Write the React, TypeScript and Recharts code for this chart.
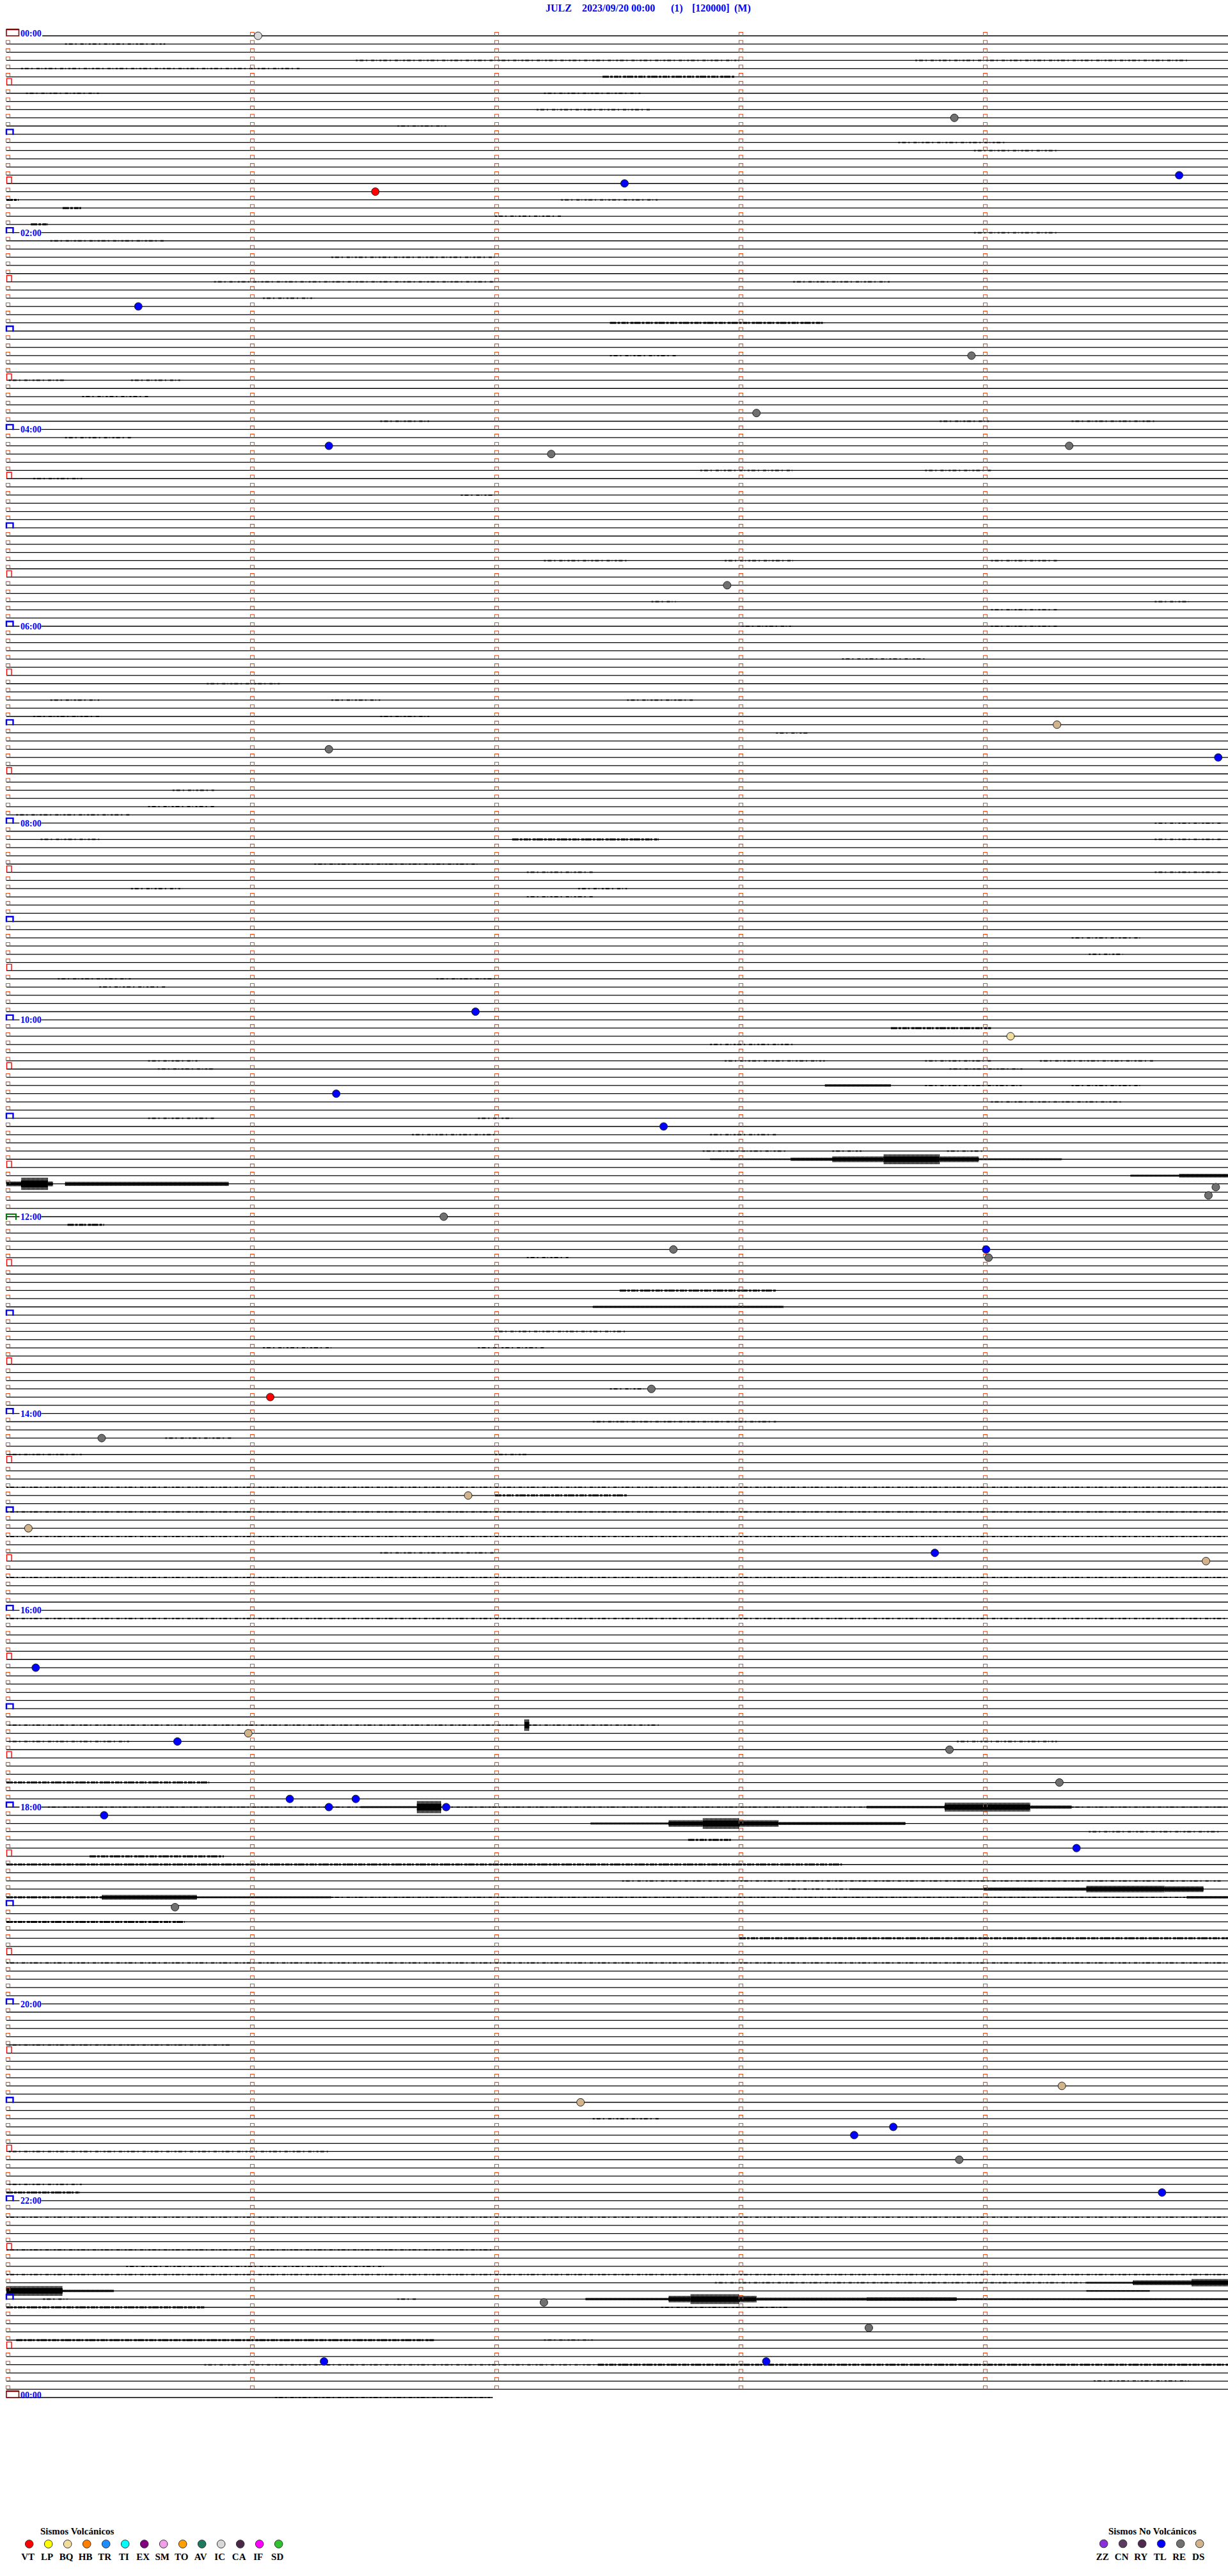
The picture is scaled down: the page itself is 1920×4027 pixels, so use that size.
import React from 'react';
import { ComposedChart, XAxis, YAxis, ReferenceLine, ReferenceArea, Scatter } from 'recharts';

// ---------- header / labels ----------
const titleParts = ['JULZ', '2023/09/20 00:00', '(1)', '[120000]', '(M)'];
const hourLabels = ['00:00', '02:00', '04:00', '06:00', '08:00', '10:00', '12:00', '14:00', '16:00', '18:00', '20:00', '22:00', '00:00'];
const hourLabelRows = [0, 24, 48, 72, 96, 120, 144, 168, 192, 216, 240, 264, 288];

// ---------- legend ----------
const volcanicTypes = ['VT', 'LP', 'BQ', 'HB', 'TR', 'TI', 'EX', 'SM', 'TO', 'AV', 'IC', 'CA', 'IF', 'SD'];
const volcanicColors = ['#ff0000', '#ffff00', '#f0dc9c', '#ff8000', '#1e8cff', '#00ffff', '#800080', '#f0a0e8', '#ffa000', '#1e7a5e', '#d8d8d8', '#4a2848', '#ff00ff', '#30c030'];
const nonVolcanicTypes = ['ZZ', 'CN', 'RY', 'TL', 'RE', 'DS'];
const nonVolcanicColors = ['#8a30d8', '#5a3a5e', '#4e2a4e', '#0000ff', '#707070', '#d2b48c'];

// ---------- events (row = 5-minute line index, minute inside the line) ----------
const eventRows = [0, 10, 17, 18, 19, 33, 39, 46, 50, 50, 51, 67, 84, 87, 88, 119, 122, 129, 133, 140.4, 141.4, 144, 148, 148, 149, 165, 166, 171, 178, 182, 185, 186, 199, 207, 208, 209, 213, 215, 215, 216, 216, 217, 221, 228.2, 250, 252, 255, 256, 259, 263, 276.4, 279.5, 283.6, 283.6];
const eventMinutes = [1.03, 3.88, 4.8, 2.53, 1.51, 0.54, 3.95, 3.07, 1.32, 4.35, 2.23, 2.95, 4.3, 1.32, 4.96, 1.92, 4.11, 1.35, 2.69, 4.95, 4.92, 1.79, 2.73, 4.01, 4.02, 2.64, 1.08, 0.39, 1.89, 0.09, 3.8, 4.91, 0.12, 0.99, 0.7, 3.86, 4.31, 1.16, 1.43, 1.32, 1.8, 0.4, 4.38, 0.69, 4.32, 2.35, 3.63, 3.47, 3.9, 4.73, 2.2, 3.53, 1.3, 3.11];
const eventTypes = ['IC', 'RE', 'TL', 'TL', 'VT', 'TL', 'RE', 'RE', 'TL', 'RE', 'RE', 'RE', 'DS', 'RE', 'TL', 'TL', 'BQ', 'TL', 'TL', 'RE', 'RE', 'RE', 'RE', 'TL', 'RE', 'RE', 'VT', 'RE', 'DS', 'DS', 'TL', 'DS', 'TL', 'DS', 'TL', 'RE', 'RE', 'TL', 'TL', 'TL', 'TL', 'TL', 'TL', 'RE', 'DS', 'DS', 'TL', 'TL', 'RE', 'TL', 'RE', 'RE', 'TL', 'TL'];

// ---------- trace texture: [row, fromMinute, toMinute, level] ----------
const speckles: [number, number, number, number][] = [
  [1, 0.24, 0.65, 1], [3, 1.43, 3.0, 1], [3, 3.72, 4.84, 1], [4, 0.06, 1.2, 1], [5, 2.44, 2.98, 2],
  [7, 0.08, 0.38, 1], [7, 2.2, 2.6, 1], [9, 2.17, 2.64, 1], [11, 1.6, 1.8, 1], [13, 3.65, 4.09, 1],
  [14, 3.96, 4.3, 1], [20, 0.0, 0.05, 2], [20, 2.27, 2.67, 1], [21, 0.23, 0.31, 2], [22, 2.0, 2.27, 1],
  [23, 0.1, 0.17, 2], [24, 3.96, 4.3, 1], [25, 0.18, 0.65, 1], [27, 1.33, 2.0, 1], [30, 0.85, 2.0, 1],
  [30, 3.22, 3.62, 1], [32, 1.05, 1.26, 1], [35, 2.47, 3.35, 2], [39, 2.47, 2.74, 1], [42, 0.01, 0.24, 1],
  [42, 0.51, 0.72, 1], [44, 0.31, 0.58, 1], [47, 1.53, 1.73, 1], [47, 3.82, 4.03, 1], [47, 4.36, 4.7, 1],
  [49, 0.24, 0.51, 1], [53, 2.84, 3.22, 1], [53, 3.76, 4.03, 1], [54, 0.11, 0.31, 1], [56, 1.86, 2.0, 1],
  [64, 2.2, 2.54, 1], [64, 2.94, 3.22, 1], [64, 4.03, 4.3, 1], [69, 2.64, 2.74, 1], [69, 4.7, 4.84, 1],
  [70, 4.03, 4.3, 1], [72, 3.01, 3.22, 1], [72, 4.03, 4.3, 1], [76, 3.42, 3.76, 1], [79, 0.82, 1.12, 1],
  [81, 0.18, 0.38, 1], [81, 1.33, 1.53, 1], [81, 2.54, 2.81, 1], [83, 0.11, 0.38, 1], [83, 1.53, 1.73, 1],
  [85, 3.15, 3.28, 1], [92, 0.68, 0.85, 1], [94, 0.58, 0.85, 1], [95, 0.04, 0.51, 1], [96, 4.7, 4.97, 1],
  [98, 0.14, 0.38, 1], [98, 2.07, 2.67, 2], [98, 4.7, 4.97, 1], [101, 1.26, 1.93, 1], [102, 2.13, 2.4, 1],
  [102, 4.7, 4.97, 1], [104, 0.51, 0.72, 1], [104, 2.34, 2.54, 1], [105, 2.13, 2.4, 1], [110, 4.36, 4.64, 1],
  [112, 4.43, 4.57, 1], [115, 0.21, 0.51, 1], [115, 1.76, 2.0, 1], [116, 0.38, 0.65, 1], [121, 3.62, 4.03, 2],
  [123, 2.88, 3.22, 1], [125, 0.58, 0.79, 1], [125, 2.94, 3.35, 1], [125, 3.76, 4.03, 1], [125, 4.23, 4.7, 1],
  [126, 0.62, 0.85, 1], [126, 3.86, 4.16, 1], [128, 3.76, 4.16, 1], [128, 4.36, 4.64, 1], [130, 4.03, 4.57, 1],
  [132, 0.58, 0.85, 1], [132, 1.93, 2.07, 1], [134, 1.66, 2.0, 1], [134, 2.88, 3.15, 1], [136, 2.85, 3.2, 1],
  [136, 3.38, 3.5, 1], [136, 3.85, 4.0, 1], [145, 0.25, 0.4, 2], [149, 2.13, 2.3, 1], [153, 2.51, 3.15, 2],
  [158, 2.0, 2.54, 1], [160, 1.05, 1.33, 1], [160, 1.93, 2.2, 1], [165, 2.47, 2.61, 1], [169, 2.4, 3.15, 1],
  [171, 0.65, 0.92, 1], [173, 0.01, 0.31, 1], [173, 2.0, 2.13, 1], [177, 0.0, 5.0, 1], [178, 2.0, 2.54, 2],
  [180, 0.0, 5.0, 1], [183, 0.0, 5.0, 1], [185, 1.53, 2.0, 1], [188, 0.0, 5.0, 1], [193, 0.0, 5.0, 1],
  [206, 0.01, 2.1, 1], [206, 2.14, 2.67, 1], [208, 0.01, 0.51, 1], [208, 3.89, 4.3, 1], [213, 0.0, 0.83, 2],
  [216, 0.17, 1.45, 1], [216, 1.78, 3.52, 1], [216, 4.36, 5.0, 1], [219, 4.43, 4.97, 1], [220, 2.79, 2.97, 2],
  [222, 0.34, 0.89, 2], [223, 0.0, 3.42, 2], [225, 2.52, 4.97, 1], [226, 3.2, 3.45, 1], [227, 0.0, 0.39, 2],
  [227, 1.33, 4.83, 1], [230, 0.0, 0.73, 2], [232, 3.0, 5.0, 2], [235, 0.0, 5.0, 1], [245, 0.01, 0.92, 1],
  [254, 2.4, 2.67, 1], [258, 0.01, 1.33, 1], [262, 0.01, 0.31, 1], [263, 0.0, 0.3, 2], [266, 0.0, 5.0, 1],
  [270, 0.0, 2.0, 1], [272, 0.49, 1.55, 1], [273, 0.0, 5.0, 1], [274, 2.9, 4.42, 1], [276, 0.15, 0.25, 1],
  [276, 1.6, 1.68, 1], [277, 0.0, 0.81, 2], [277, 2.68, 3.2, 1], [281, 0.04, 1.75, 2], [281, 2.2, 2.4, 1],
  [284, 0.81, 2.42, 1], [284, 2.42, 5.0, 2], [286, 4.45, 4.84, 1], [288, 1.1, 1.99, 1],
];

// ---------- bursts: [row, fromMinute, toMinute, half-amplitude in rows] ----------
const bursts: [number, number, number, number][] = [
  [137, 2.88, 3.21, 0.1], [137, 3.21, 3.38, 0.2], [137, 3.38, 3.59, 0.35], [137, 3.59, 3.82, 0.6], [137, 3.82, 3.98, 0.35], [137, 3.98, 4.32, 0.12],
  [139, 4.6, 4.8, 0.12], [139, 4.8, 5.0, 0.22],
  [140, 0.0, 0.06, 0.3], [140, 0.06, 0.17, 0.75], [140, 0.17, 0.19, 0.3], [140, 0.24, 0.91, 0.25],
  [128, 3.35, 3.62, 0.15], [155, 2.4, 3.18, 0.14],
  [206, 2.12, 2.14, 0.7],
  [216, 1.45, 1.68, 0.12], [216, 1.68, 1.78, 0.75], [216, 3.52, 3.84, 0.15], [216, 3.84, 4.19, 0.55], [216, 4.19, 4.36, 0.2],
  [218, 2.39, 2.71, 0.12], [218, 2.71, 2.85, 0.4], [218, 2.85, 3.0, 0.65], [218, 3.0, 3.16, 0.4], [218, 3.16, 3.68, 0.18],
  [226, 3.45, 4.0, 0.1], [226, 4.0, 4.42, 0.2], [226, 4.42, 4.74, 0.4], [226, 4.74, 4.9, 0.35],
  [227, 0.39, 0.78, 0.3], [227, 0.78, 1.33, 0.12], [227, 4.83, 5.0, 0.15],
  [274, 4.42, 4.61, 0.12], [274, 4.61, 4.85, 0.3], [274, 4.85, 5.0, 0.45],
  [275, 0.0, 0.23, 0.6], [275, 0.23, 0.44, 0.15], [275, 4.42, 4.68, 0.1],
  [276, 2.37, 2.71, 0.15], [276, 2.71, 2.8, 0.4], [276, 2.8, 3.0, 0.6], [276, 3.0, 3.07, 0.4], [276, 3.07, 3.52, 0.18], [276, 3.52, 3.89, 0.22], [276, 3.89, 5.0, 0.12],
];

// line extents that differ from the full 0-5 minutes
const firstRowStartMinute = 0.147;
const lastRowEndMinute = 1.99;
const LAST_ROW = 288;
const minuteTicks = [0, 1, 2, 3, 4];

// ---------- layout ----------
const W = 1920;
const H = 4027;
const SERIF = '"Liberation Serif", "Times New Roman", serif';
const titleLayout = [853, 910, 1049, 1082, 1148];
const CORE_SHARE = 0.55;

const rows = Array.from({ length: LAST_ROW + 1 }, (_, i) => i);

function leftKind(r: number): string {
  if (r === 0 || r === LAST_ROW) return 'day';
  if (r === 144) return 'noon';
  if (r % 12 === 0) return 'hour';
  if (r % 12 === 6) return 'half';
  return 'minute';
}

const minuteMarks: { x: number; y: number }[] = [];
const leftMarks: { x: number; y: number; kind: string }[] = [];
rows.forEach((r) => {
  const k = leftKind(r);
  if (r === LAST_ROW) {
    leftMarks.push({ x: 0, y: r, kind: k });
    return;
  }
  minuteTicks.forEach((m) => {
    if (m === 0 && k !== 'minute') leftMarks.push({ x: 0, y: r, kind: k });
    else minuteMarks.push({ x: m, y: r });
  });
});

const labelData = hourLabels.map((t, i) => ({ x: 0, y: hourLabelRows[i], label: t }));

const colorOf: Record<string, string> = {};
volcanicTypes.forEach((t, i) => (colorOf[t] = volcanicColors[i]));
nonVolcanicTypes.forEach((t, i) => (colorOf[t] = nonVolcanicColors[i]));
const usedTypes = Array.from(new Set(eventTypes));
const eventsByType = usedTypes.map((t) => ({
  type: t,
  data: eventRows
    .map((r, i) => ({ x: eventMinutes[i], y: r, t: eventTypes[i] }))
    .filter((d) => d.t === t),
}));

const MinuteMark = (p: any) => {
  const { cx, cy } = p;
  if (cx == null || cy == null) return <g />;
  const x = cx + 2.5;
  return <path d={`M${x - 3},${cy} V${cy - 5.5} H${x + 3} V${cy}`} fill="none" stroke="#ff4a10" strokeWidth={1.1} />;
};

const LeftMark = (p: any) => {
  const { cx, cy, payload } = p;
  if (cx == null || cy == null) return <g />;
  const k = payload.kind;
  if (k === 'hour')
    return <path d={`M${cx},${cy + 1} V${cy - 7.5} H${cx + 10.5} V${cy + 1}`} fill="none" stroke="#0000ff" strokeWidth={2.4} />;
  if (k === 'half')
    return <path d={`M${cx + 0.5},${cy} V${cy - 10} H${cx + 8} V${cy}`} fill="none" stroke="#ff0000" strokeWidth={1.4} />;
  if (k === 'noon')
    return <path d={`M${cx},${cy + 5} V${cy - 4} H${cx + 15} V${cy + 5}`} fill="none" stroke="#008000" strokeWidth={2.2} />;
  return (
    <g>
      <rect x={cx} y={cy - 10} width={19.5} height={10} fill="#fff" stroke="#8b0000" strokeWidth={1.6} />
      <line x1={cx} x2={cx + 19.5} y1={cy - 10} y2={cy - 10} stroke="#8b0000" strokeWidth={2.4} />
    </g>
  );
};

const HourLabel = (p: any) => {
  const { cx, cy, payload } = p;
  if (cx == null || cy == null) return <g />;
  const day = payload.y === 0 || payload.y === LAST_ROW;
  const base = day ? cy + 0.5 : cy + 5;
  return (
    <g>
      {!day && <rect x={cx + 20.5} y={cy - 7} width={34} height={14} fill="#fff" />}
      <text x={cx + 22} y={base} fill="#0000ff" fontFamily={SERIF} fontWeight="bold" fontSize={14}>
        {payload.label}
      </text>
    </g>
  );
};

const EventDot = (p: any) => {
  const { cx, cy, payload } = p;
  if (cx == null || cy == null) return <g />;
  return <circle cx={cx} cy={cy} r={6} fill={colorOf[payload.t]} stroke="#222" strokeWidth={1} />;
};

const specStyle = (level: number) =>
  level === 2
    ? { strokeWidth: 3, strokeDasharray: '10 2 4 2 7 1 3 3 5 1' }
    : { strokeWidth: 2, strokeDasharray: '3 3 6 4 2 6 5 3 1 4' };

function Legend() {
  return (
    <svg width={W} height={H} style={{ position: 'absolute', left: 0, top: 0, pointerEvents: 'none' }}>
      {titleParts.map((t, i) => (
        <text key={t} x={titleLayout[i]} y={18.3} fill="#0000ff" fontFamily={SERIF} fontWeight="bold" fontSize={16}>
          {t}
        </text>
      ))}
      <text x={63} y={3961.7} fontFamily={SERIF} fontWeight="bold" fontSize={15} fill="#000">
        Sismos Volcánicos
      </text>
      {volcanicTypes.map((t, i) => (
        <g key={t}>
          <circle cx={45.7 + 30 * i} cy={3977} r={6.3} fill={volcanicColors[i]} stroke="#333" strokeWidth={1} />
          <text x={43.7 + 30 * i} y={4002.3} textAnchor="middle" fontFamily={SERIF} fontWeight="bold" fontSize={15} fill="#000">
            {t}
          </text>
        </g>
      ))}
      <text x={1733} y={3961.7} fontFamily={SERIF} fontWeight="bold" fontSize={15} fill="#000">
        Sismos No Volcánicos
      </text>
      {nonVolcanicTypes.map((t, i) => (
        <g key={t}>
          <circle cx={1725.7 + 30 * i} cy={3976.5} r={6.3} fill={nonVolcanicColors[i]} stroke="#333" strokeWidth={1} />
          <text x={1723.7 + 30 * i} y={4002.3} textAnchor="middle" fontFamily={SERIF} fontWeight="bold" fontSize={15} fill="#000">
            {t}
          </text>
        </g>
      ))}
    </svg>
  );
}

export default function App() {
  return (
    <div style={{ position: 'absolute', left: 0, top: 0, width: W, height: H, background: '#fff' }}>
      <ComposedChart width={W} height={H} margin={{ top: 56, right: 0, bottom: 279, left: 10 }}>
        <defs>
          <pattern id="spikes" width="2" height="4" patternUnits="userSpaceOnUse">
            <rect x="0" y="0" width="1.4" height="4" fill="#000" />
          </pattern>
        </defs>
        <XAxis type="number" dataKey="x" domain={[0, 5]} hide />
        <YAxis type="number" dataKey="y" domain={[0, LAST_ROW]} reversed hide />
        {rows.map((r) => (
          <ReferenceLine
            key={`row-${r}`}
            segment={[
              { x: r === 0 ? firstRowStartMinute : 0, y: r },
              { x: r === LAST_ROW ? lastRowEndMinute : 5, y: r },
            ]}
            stroke="#000"
            strokeWidth={1.3}
            ifOverflow="visible"
          />
        ))}
        {speckles.map(([r, a, b, lv], i) => (
          <ReferenceLine
            key={`sp-${i}`}
            segment={[
              { x: a, y: r },
              { x: b, y: r },
            ]}
            stroke="#000"
            {...specStyle(lv)}
            ifOverflow="visible"
          />
        ))}
        {bursts.map(([r, a, b, amp], i) => (
          <ReferenceArea key={`bu-${i}`} x1={a} x2={b} y1={r - amp} y2={r + amp} fill="url(#spikes)" fillOpacity={1} stroke="none" ifOverflow="visible" />
        ))}
        {bursts.map(([r, a, b, amp], i) => (
          <ReferenceArea
            key={`bc-${i}`}
            x1={a}
            x2={b}
            y1={r - amp * CORE_SHARE}
            y2={r + amp * CORE_SHARE}
            fill="#000"
            fillOpacity={1}
            stroke="none"
            ifOverflow="visible"
          />
        ))}
        <Scatter data={minuteMarks} shape={MinuteMark} isAnimationActive={false} />
        <Scatter data={leftMarks} shape={LeftMark} isAnimationActive={false} />
        <Scatter data={labelData} shape={HourLabel} isAnimationActive={false} />
        {eventsByType.map((g) => (
          <Scatter key={g.type} name={g.type} data={g.data} shape={EventDot} isAnimationActive={false} />
        ))}
      </ComposedChart>
      <Legend />
    </div>
  );
}
